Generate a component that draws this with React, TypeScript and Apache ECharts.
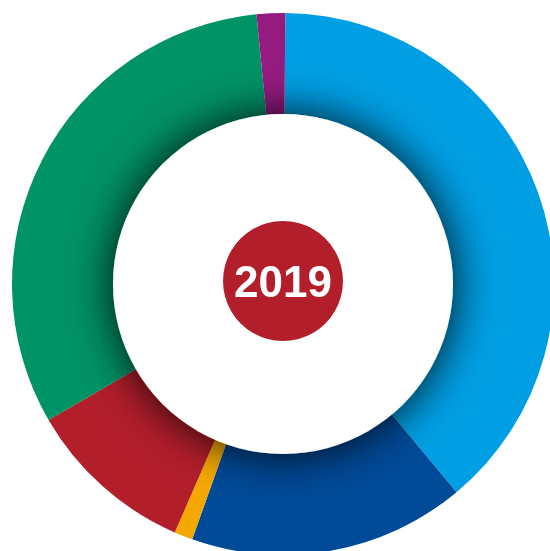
import React, { useEffect, useRef } from "react";
import * as echarts from "echarts";

const categories = ["A", "B", "C", "D", "E", "F"];
const values = [38.8, 16.5, 1.1, 10.1, 31.8, 1.7];
const colors = ["#009FE3", "#004A98", "#F5A800", "#B31E2B", "#009366", "#951B81"];
const yearLabel = "2019";

export default function App() {
  const ref = useRef<HTMLDivElement>(null);
  useEffect(() => {
    document.body.style.margin = "0";
    const chart = echarts.init(ref.current!, undefined, { renderer: "svg" });
    const center = [283, 284];
    chart.setOption({
      animation: false,
      series: [
        {
          type: "pie",
          center,
          radius: [168, 271],
          startAngle: 89.5,
          clockwise: true,
          label: { show: false },
          labelLine: { show: false },
          emphasis: { disabled: true },
          silent: true,
          data: categories.map((c, i) => ({
            name: c,
            value: values[i],
            itemStyle: { color: colors[i] },
          })),
        },
        {
          type: "pie",
          center,
          radius: [0, 170],
          label: { show: false },
          silent: true,
          emphasis: { disabled: true },
          data: [
            {
              value: 1,
              itemStyle: {
                color: "#ffffff",
                shadowBlur: 45,
                shadowColor: "rgba(0,0,0,0.9)",
              },
            },
          ],
        },
        {
          type: "pie",
          center: [283, 281],
          radius: [0, 60],
          silent: true,
          emphasis: { disabled: true },
          label: {
            show: true,
            position: "center",
            formatter: yearLabel,
            color: "#ffffff",
            fontSize: 44,
            fontWeight: "bold",
            fontFamily: "Liberation Sans, Arial, sans-serif",
          },
          data: [{ value: 1, name: yearLabel, itemStyle: { color: "#B31E2B" } }],
        },
      ],
    });
    return () => chart.dispose();
  }, []);
  return (
    <div
      ref={ref}
      style={{ position: "fixed", left: 0, top: 0, width: 550, height: 551 }}
    />
  );
}
